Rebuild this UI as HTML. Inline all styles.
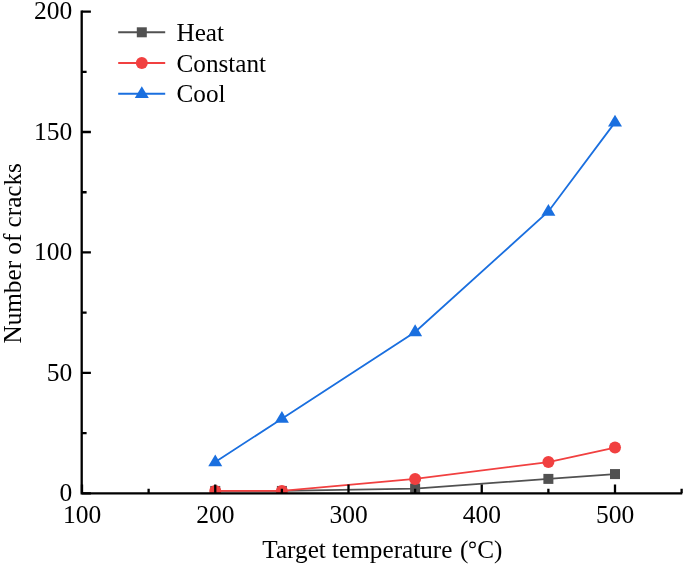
<!DOCTYPE html><html><head><meta charset="utf-8"><style>html,body{margin:0;padding:0;background:#fff;}svg{display:block;will-change:transform;}text{font-family:"Liberation Serif",serif;fill:#000;}</style></head><body>
<svg width="685" height="566" viewBox="0 0 685 566">
<rect width="685" height="566" fill="#fff"/>
<defs><clipPath id="c"><rect x="81.7" y="0" width="603.3" height="493.35"/></clipPath></defs>
<g clip-path="url(#c)">
<polyline points="215.25,490.94 281.88,490.94 415.12,488.53 548.38,478.90 615.00,474.08" fill="none" stroke="#515151" stroke-width="1.8"/>
<rect x="210.25" y="485.94" width="10" height="10" fill="#515151"/>
<rect x="276.88" y="485.94" width="10" height="10" fill="#515151"/>
<rect x="410.12" y="483.53" width="10" height="10" fill="#515151"/>
<rect x="543.38" y="473.90" width="10" height="10" fill="#515151"/>
<rect x="610.00" y="469.08" width="10" height="10" fill="#515151"/>
<polyline points="215.25,490.94 281.88,490.94 415.12,478.90 548.38,462.03 615.00,447.58" fill="none" stroke="#F14040" stroke-width="1.8"/>
<circle cx="215.25" cy="490.94" r="6" fill="#F14040"/>
<circle cx="281.88" cy="490.94" r="6" fill="#F14040"/>
<circle cx="415.12" cy="478.90" r="6" fill="#F14040"/>
<circle cx="548.38" cy="462.03" r="6" fill="#F14040"/>
<circle cx="615.00" cy="447.58" r="6" fill="#F14040"/>
<polyline points="215.25,462.03 281.88,418.67 415.12,331.95 548.38,211.50 615.00,122.36" fill="none" stroke="#1A6FDF" stroke-width="1.8"/>
<polygon points="215.25,454.43 222.25,466.23 208.25,466.23" fill="#1A6FDF"/>
<polygon points="281.88,411.07 288.88,422.87 274.88,422.87" fill="#1A6FDF"/>
<polygon points="415.12,324.35 422.12,336.15 408.12,336.15" fill="#1A6FDF"/>
<polygon points="548.38,203.90 555.38,215.70 541.38,215.70" fill="#1A6FDF"/>
<polygon points="615.00,114.76 622.00,126.56 608.00,126.56" fill="#1A6FDF"/>
</g>
<g stroke="#000" stroke-width="2.3" fill="none">
<path d="M81.7,10.40 V493.35 H682.23"/>
<path d="M81.7,493.35 h9.2 M81.7,372.90 h9.2 M81.7,252.45 h9.2 M81.7,132.00 h9.2 M81.7,11.55 h9.2 M81.7,433.12 h4.9 M81.7,312.68 h4.9 M81.7,192.23 h4.9 M81.7,71.78 h4.9 M82.00,493.35 v-8.9 M215.25,493.35 v-8.9 M348.50,493.35 v-8.9 M481.75,493.35 v-8.9 M615.00,493.35 v-8.9 M148.62,493.35 v-4.6 M281.88,493.35 v-4.6 M415.12,493.35 v-4.6 M548.38,493.35 v-4.6 M681.62,493.35 v-4.6"/>
</g>
<text x="72.2" y="501.22" font-size="25.5" text-anchor="end">0</text>
<text x="72.2" y="380.77" font-size="25.5" text-anchor="end">50</text>
<text x="72.2" y="260.32" font-size="25.5" text-anchor="end">100</text>
<text x="72.2" y="139.87" font-size="25.5" text-anchor="end">150</text>
<text x="72.2" y="19.42" font-size="25.5" text-anchor="end">200</text>
<text x="82.00" y="523.4" font-size="25.5" text-anchor="middle">100</text>
<text x="215.25" y="523.4" font-size="25.5" text-anchor="middle">200</text>
<text x="348.50" y="523.4" font-size="25.5" text-anchor="middle">300</text>
<text x="481.75" y="523.4" font-size="25.5" text-anchor="middle">400</text>
<text x="615.00" y="523.4" font-size="25.5" text-anchor="middle">500</text>
<text x="262.3" y="557.5" font-size="25.2">Target temperature</text>
<text x="460.0" y="557.5" font-size="25.2">(</text>
<circle cx="472.5" cy="544.9" r="2.75" fill="none" stroke="#000" stroke-width="1.15"/>
<text x="477.2" y="557.5" font-size="25.2">C)</text>
<text transform="translate(21.4,253.3) rotate(-90)" font-size="25.2" text-anchor="middle">Number of cracks</text>
<line x1="118.2" y1="32.3" x2="165.2" y2="32.3" stroke="#515151" stroke-width="2.0"/>
<rect x="136.80" y="27.30" width="10" height="10" fill="#515151"/>
<text x="176.5" y="40.6" font-size="25.2">Heat</text>
<line x1="118.2" y1="63.0" x2="165.2" y2="63.0" stroke="#F14040" stroke-width="2.0"/>
<circle cx="141.80" cy="63.00" r="6" fill="#F14040"/>
<text x="176.5" y="71.8" font-size="25.2">Constant</text>
<line x1="118.2" y1="93.8" x2="165.2" y2="93.8" stroke="#1A6FDF" stroke-width="2.0"/>
<polygon points="141.80,86.20 148.80,98.00 134.80,98.00" fill="#1A6FDF"/>
<text x="176.5" y="102.3" font-size="25.2">Cool</text>
</svg></body></html>
